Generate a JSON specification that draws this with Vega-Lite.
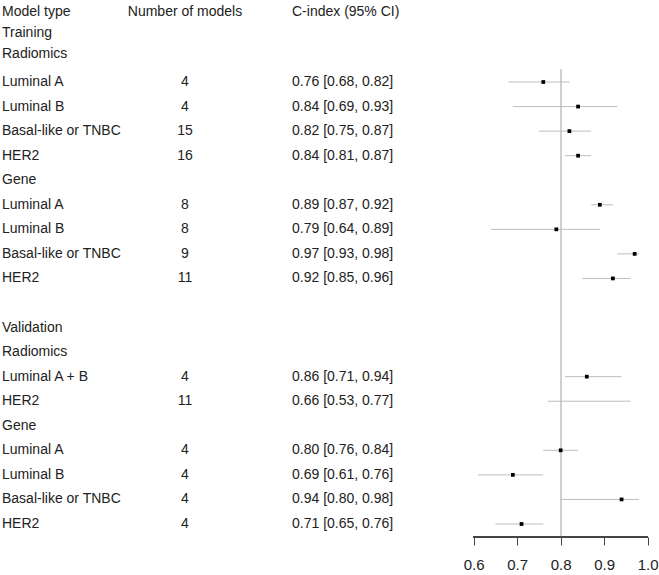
{
  "$schema": "https://vega.github.io/schema/vega-lite/v6.json",
  "width": 659,
  "height": 537,
  "padding": {"top": 0, "left": 0, "right": 0, "bottom": 38},
  "autosize": {"type": "none"},
  "background": "white",
  "config": {"view": {"stroke": null}, "font": "Liberation Sans"},
  "data": {"values": [
    {"row": 0.15, "label": "Model type", "n": "Number of models", "ci": "C-index (95% CI)"},
    {"row": 1, "label": "Training"},
    {"row": 1.86, "label": "Radiomics"},
    {"row": 3, "label": "Luminal A", "n": "4", "ci": "0.76 [0.68, 0.82]", "est": 0.76, "lo": 0.68, "hi": 0.82},
    {"row": 4, "label": "Luminal B", "n": "4", "ci": "0.84 [0.69, 0.93]", "est": 0.84, "lo": 0.69, "hi": 0.93},
    {"row": 5, "label": "Basal-like or TNBC", "n": "15", "ci": "0.82 [0.75, 0.87]", "est": 0.82, "lo": 0.75, "hi": 0.87},
    {"row": 6, "label": "HER2", "n": "16", "ci": "0.84 [0.81, 0.87]", "est": 0.84, "lo": 0.81, "hi": 0.87},
    {"row": 7, "label": "Gene"},
    {"row": 8, "label": "Luminal A", "n": "8", "ci": "0.89 [0.87, 0.92]", "est": 0.89, "lo": 0.87, "hi": 0.92},
    {"row": 9, "label": "Luminal B", "n": "8", "ci": "0.79 [0.64, 0.89]", "est": 0.79, "lo": 0.64, "hi": 0.89},
    {"row": 10, "label": "Basal-like or TNBC", "n": "9", "ci": "0.97 [0.93, 0.98]", "est": 0.97, "lo": 0.93, "hi": 0.98},
    {"row": 11, "label": "HER2", "n": "11", "ci": "0.92 [0.85, 0.96]", "est": 0.92, "lo": 0.85, "hi": 0.96},
    {"row": 13, "label": "Validation"},
    {"row": 14, "label": "Radiomics"},
    {"row": 15, "label": "Luminal A + B", "n": "4", "ci": "0.86 [0.71, 0.94]", "est": 0.86, "lo": 0.81, "hi": 0.94},
    {"row": 16, "label": "HER2", "n": "11", "ci": "0.66 [0.53, 0.77]", "lo": 0.77, "hi": 0.96},
    {"row": 17, "label": "Gene"},
    {"row": 18, "label": "Luminal A", "n": "4", "ci": "0.80 [0.76, 0.84]", "est": 0.80, "lo": 0.76, "hi": 0.84},
    {"row": 19, "label": "Luminal B", "n": "4", "ci": "0.69 [0.61, 0.76]", "est": 0.69, "lo": 0.61, "hi": 0.76},
    {"row": 20, "label": "Basal-like or TNBC", "n": "4", "ci": "0.94 [0.80, 0.98]", "est": 0.94, "lo": 0.80, "hi": 0.98},
    {"row": 21, "label": "HER2", "n": "4", "ci": "0.71 [0.65, 0.76]", "est": 0.71, "lo": 0.65, "hi": 0.76}
  ]},
  "layer": [
    {
      "mark": {"type": "rule", "color": "#cfcfcf", "strokeWidth": 1.2},
      "encoding": {
        "x": {"datum": 0.8, "type": "quantitative", "scale": {"domain": [-0.489, 1.026], "nice": false, "zero": false}, "axis": {"values": [0.6, 0.7, 0.8, 0.9, 1.0], "format": ".1f", "domain": false, "grid": false, "title": null, "tickSize": 8, "tickColor": "#444444", "tickWidth": 1, "labelFontSize": 15, "labelColor": "#222222", "labelPadding": 12, "labelFont": "Liberation Sans"}},
        "y": {"datum": 2.5, "type": "quantitative", "scale": {"domain": [-0.34, 21.53], "nice": false, "zero": false, "reverse": true}, "axis": null},
        "y2": {"datum": 21.5}
      }
    },
    {
      "transform": [{"filter": "isValid(datum.lo)"}],
      "mark": {"type": "rule", "color": "#bdbdbd", "strokeWidth": 1},
      "encoding": {
        "x": {"field": "lo", "type": "quantitative"},
        "x2": {"field": "hi"},
        "y": {"field": "row", "type": "quantitative"}
      }
    },
    {
      "transform": [{"filter": "isValid(datum.est)"}],
      "mark": {"type": "point", "shape": "square", "filled": true, "color": "#000000", "size": 14, "opacity": 1},
      "encoding": {
        "x": {"field": "est", "type": "quantitative"},
        "y": {"field": "row", "type": "quantitative"}
      }
    },
    {
      "mark": {"type": "text", "align": "left", "baseline": "middle", "fontSize": 14, "color": "#222222"},
      "encoding": {
        "x": {"datum": -0.4844, "type": "quantitative"},
        "y": {"field": "row", "type": "quantitative"},
        "text": {"field": "label"}
      }
    },
    {
      "transform": [{"filter": "isValid(datum.n)"}],
      "mark": {"type": "text", "align": "center", "baseline": "middle", "fontSize": 14, "color": "#222222"},
      "encoding": {
        "x": {"datum": -0.0637, "type": "quantitative"},
        "y": {"field": "row", "type": "quantitative"},
        "text": {"field": "n"}
      }
    },
    {
      "transform": [{"filter": "isValid(datum.ci)"}],
      "mark": {"type": "text", "align": "left", "baseline": "middle", "fontSize": 14, "color": "#222222"},
      "encoding": {
        "x": {"datum": 0.1823, "type": "quantitative"},
        "y": {"field": "row", "type": "quantitative"},
        "text": {"field": "ci"}
      }
    },
    {
      "mark": {"type": "rule", "color": "#444444", "strokeWidth": 1},
      "encoding": {
        "x": {"datum": 0.6, "type": "quantitative"},
        "x2": {"datum": 1.0},
        "y": {"datum": 21.53, "type": "quantitative"}
      }
    }
  ]
}
